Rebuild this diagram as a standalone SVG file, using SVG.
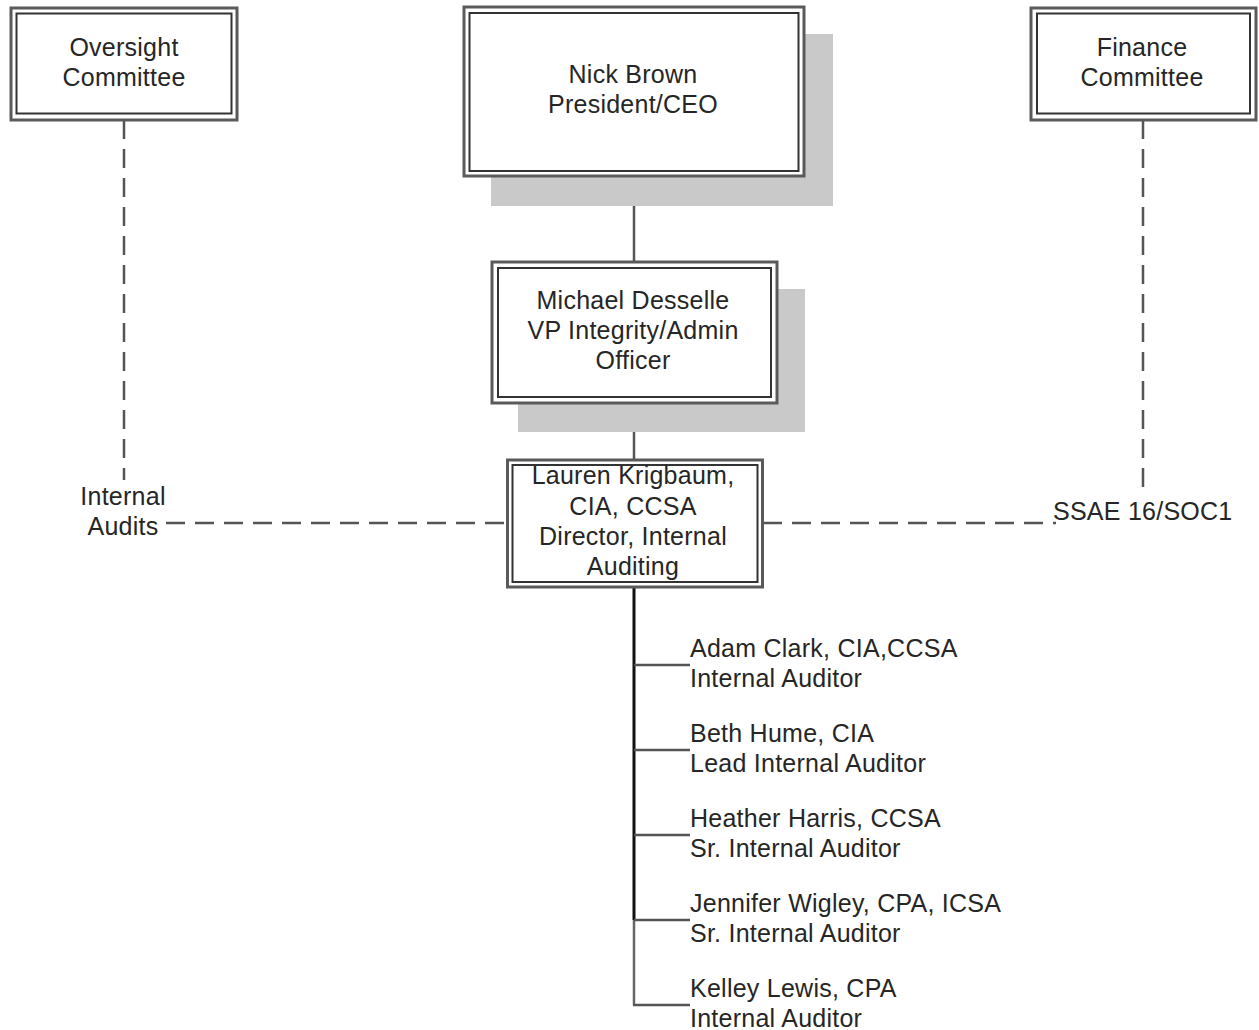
<svg xmlns="http://www.w3.org/2000/svg" width="1259" height="1030" viewBox="0 0 1259 1030">
<style>
  .outer { fill: #ffffff; stroke: #5a5a5a; stroke-width: 3; }
  .inner { fill: #ffffff; stroke: #333333; stroke-width: 2; }
  .shadow { fill: #c9c9c9; stroke: none; }
  .t { font-family: "Liberation Sans", Arial, sans-serif; font-size: 25px; fill: #262626; letter-spacing: 0.25px; }
  .c { text-anchor: middle; }
  .solid { stroke: #555555; stroke-width: 2.5; fill: none; }
  .dash { stroke: #555555; stroke-width: 2.5; fill: none; stroke-dasharray: 19 10; }
</style>
<rect width="1259" height="1030" fill="#ffffff"/>
<g id="connectors">
  <line class="solid" x1="634" y1="177" x2="634" y2="261"/>
  <line class="solid" x1="634" y1="403" x2="634" y2="459"/>
  <line x1="634" y1="587" x2="634" y2="920" stroke="#111111" stroke-width="3"/>
  <line x1="634" y1="920" x2="634" y2="1005" stroke="#666666" stroke-width="2.5"/>
  <line class="solid" x1="634" y1="665" x2="690" y2="665"/>
  <line class="solid" x1="634" y1="750" x2="690" y2="750"/>
  <line class="solid" x1="634" y1="835" x2="690" y2="835"/>
  <line class="solid" x1="634" y1="920" x2="690" y2="920"/>
  <line class="solid" x1="633" y1="1005" x2="690" y2="1005"/>
  <line class="dash" x1="124" y1="120" x2="124" y2="480"/>
  <line class="dash" x1="166" y1="523" x2="507" y2="523"/>
  <line class="dash" x1="1143" y1="120" x2="1143" y2="497"/>
  <line class="dash" x1="763" y1="523" x2="1056" y2="523"/>
</g>
<g id="oversight">
  <rect class="outer" x="11" y="8" width="226" height="112"/>
  <rect class="inner" x="16.5" y="13.5" width="215" height="100"/>
  <text class="t c" x="124" y="56">Oversight</text>
  <text class="t c" x="124" y="86">Committee</text>
</g>
<g id="ceo">
  <rect class="shadow" x="491" y="34" width="342" height="172"/>
  <rect class="outer" x="464" y="7" width="340" height="169"/>
  <rect class="inner" x="469.5" y="13" width="329" height="158"/>
  <text class="t c" x="633" y="83">Nick Brown</text>
  <text class="t c" x="633" y="113">President/CEO</text>
</g>
<g id="finance">
  <rect class="outer" x="1031" y="8" width="225" height="112"/>
  <rect class="inner" x="1037" y="13.5" width="213" height="100"/>
  <text class="t c" x="1142" y="56">Finance</text>
  <text class="t c" x="1142" y="86">Committee</text>
</g>
<g id="vp">
  <rect class="shadow" x="518" y="289" width="287" height="143"/>
  <rect class="outer" x="492" y="262" width="285" height="141"/>
  <rect class="inner" x="498" y="268" width="273" height="129"/>
  <text class="t c" x="633" y="309">Michael Desselle</text>
  <text class="t c" x="633" y="339">VP Integrity/Admin</text>
  <text class="t c" x="633" y="369">Officer</text>
</g>
<g id="director">
  <rect class="outer" x="507.5" y="460" width="255" height="127"/>
  <rect class="inner" x="512.5" y="465" width="245" height="117"/>
  <text class="t c" x="633" y="484">Lauren Krigbaum,</text>
  <text class="t c" x="633" y="515">CIA, CCSA</text>
  <text class="t c" x="633" y="545">Director, Internal</text>
  <text class="t c" x="633" y="575">Auditing</text>
</g>
<g id="label-internal-audits">
  <text class="t c" x="123" y="505">Internal</text>
  <text class="t c" x="123" y="535">Audits</text>
</g>
<g id="label-ssae">
  <text class="t" x="1053" y="520">SSAE 16/SOC1</text>
</g>
<g id="adam">
  <text class="t" x="690" y="657">Adam Clark, CIA,CCSA</text>
  <text class="t" x="690" y="687">Internal Auditor</text>
</g>
<g id="beth">
  <text class="t" x="690" y="742">Beth Hume, CIA</text>
  <text class="t" x="690" y="772">Lead Internal Auditor</text>
</g>
<g id="heather">
  <text class="t" x="690" y="827">Heather Harris, CCSA</text>
  <text class="t" x="690" y="857">Sr. Internal Auditor</text>
</g>
<g id="jennifer">
  <text class="t" x="690" y="912">Jennifer Wigley, CPA, ICSA</text>
  <text class="t" x="690" y="942">Sr. Internal Auditor</text>
</g>
<g id="kelley">
  <text class="t" x="690" y="997">Kelley Lewis, CPA</text>
  <text class="t" x="690" y="1027">Internal Auditor</text>
</g>
</svg>
